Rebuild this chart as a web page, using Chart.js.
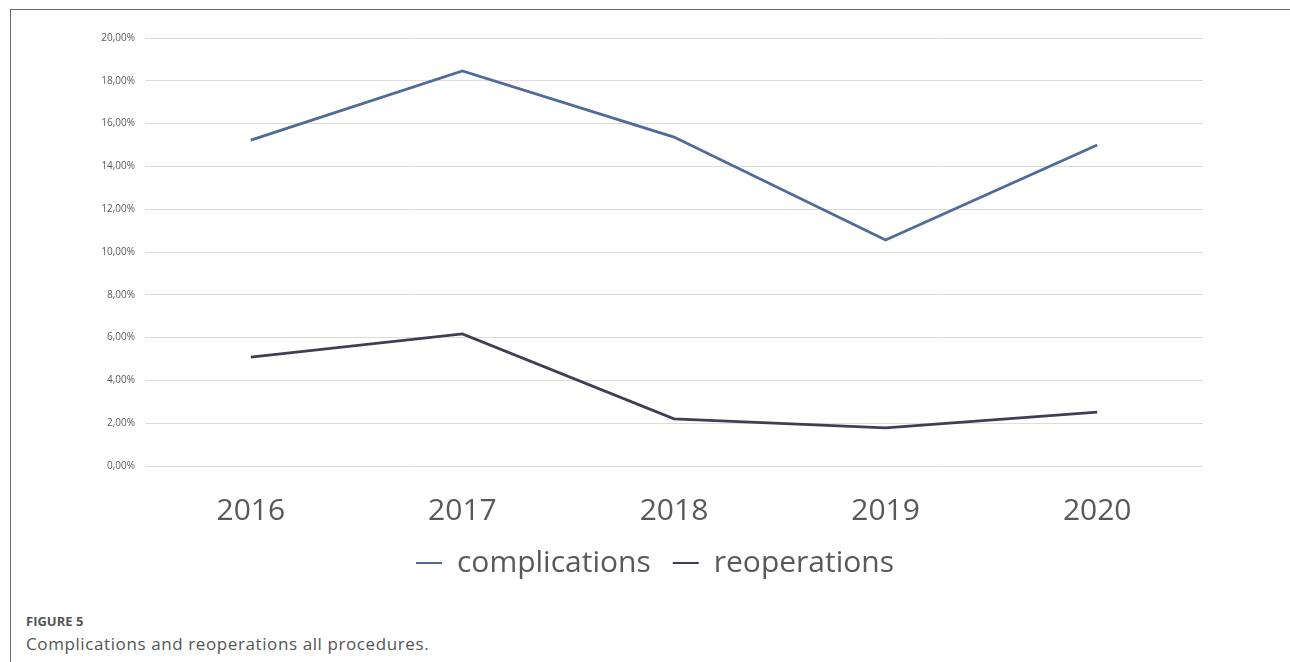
<!DOCTYPE html>
<html>
<head>
<meta charset="utf-8">
<script src="https://cdn.jsdelivr.net/npm/chart.js@4/dist/chart.umd.min.js"></script>
<style>
  html, body { margin: 0; padding: 0; background: #fff; }
  body { width: 1290px; height: 662px; position: relative; overflow: hidden; font-family: "Open Sans", sans-serif; }
  #frame { position: absolute; left: 10px; top: 9px; width: 1290px; height: 700px; border-left: 1px solid #6a6a6a; border-top: 1px solid #6a6a6a; }
  #wrap { position: absolute; left: 0; top: 0; width: 1290px; height: 588px; }
  #fig { position: absolute; left: 26px; top: 615px; font-size: 13px; line-height: 13px; font-weight: 700; color: #555; }
  #cap { position: absolute; left: 26px; top: 635px; font-size: 17px; line-height: 17px; color: #555; letter-spacing: 0.6px; }
</style>
</head>
<body>
<div id="frame"></div>
<div id="wrap"><canvas id="c" width="1290" height="588"></canvas></div>
<div id="fig">FIGURE 5</div>
<div id="cap">Complications and reoperations all procedures.</div>
<script>
const years = ["2016", "2017", "2018", "2019", "2020"];
const complications = [15.23, 18.46, 15.37, 10.56, 15.00];
const reoperations = [5.09, 6.17, 2.20, 1.78, 2.52];
const yTicks = [0, 2, 4, 6, 8, 10, 12, 14, 16, 18, 20];

const fmt = v => v.toFixed(2).replace('.', ',') + '%';

new Chart(document.getElementById('c'), {
  type: 'line',
  data: {
    labels: years,
    datasets: [
      { label: 'complications', data: complications, borderColor: '#4f6b9a', backgroundColor: '#4f6b9a', borderWidth: 2.8, pointRadius: 0, tension: 0 },
      { label: 'reoperations', data: reoperations, borderColor: '#3e3f52', backgroundColor: '#3e3f52', borderWidth: 2.8, pointRadius: 0, tension: 0 }
    ]
  },
  options: {
    responsive: false,
    animation: false,
    layout: { padding: { top: 38, right: 0, left: 20, bottom: 0 } },
    plugins: {
      tooltip: { enabled: false },
      legend: {
        position: 'bottom',
        labels: {
          font: { family: 'Open Sans', size: 30 },
          color: '#595959',
          boxWidth: 26,
          boxHeight: 2,
          padding: 22,
          generateLabels: (chart) => {
            const items = Chart.defaults.plugins.legend.labels.generateLabels(chart);
            items.forEach(it => { it.lineWidth = 0; it.strokeStyle = 'rgba(0,0,0,0)'; });
            return items;
          }
        }
      }
    },
    scales: {
      x: {
        offset: true,
        grid: { display: false, drawTicks: false },
        border: { display: false },
        ticks: { font: { family: 'Open Sans', size: 30 }, color: '#595959', padding: 27 },
        afterFit: s => { s.height = 60; }
      },
      y: {
        min: 0, max: 20,
        afterBuildTicks: s => { s.ticks = yTicks.map(v => ({ value: v })); },
        afterFit: s => { s.width = 125; },
        grid: { color: '#e0dbd8', lineWidth: 1, drawTicks: false },
        border: { display: false },
        ticks: { font: { family: 'Open Sans', size: 10 }, color: '#595959', padding: 10, callback: v => fmt(v) }
      },
      y2: {
        type: 'linear',
        position: 'right',
        display: true,
        grid: { display: false, drawTicks: false },
        border: { display: false },
        ticks: { display: false },
        afterFit: s => { s.width = 87; }
      }
    }
  }
});
</script>
</body>
</html>
